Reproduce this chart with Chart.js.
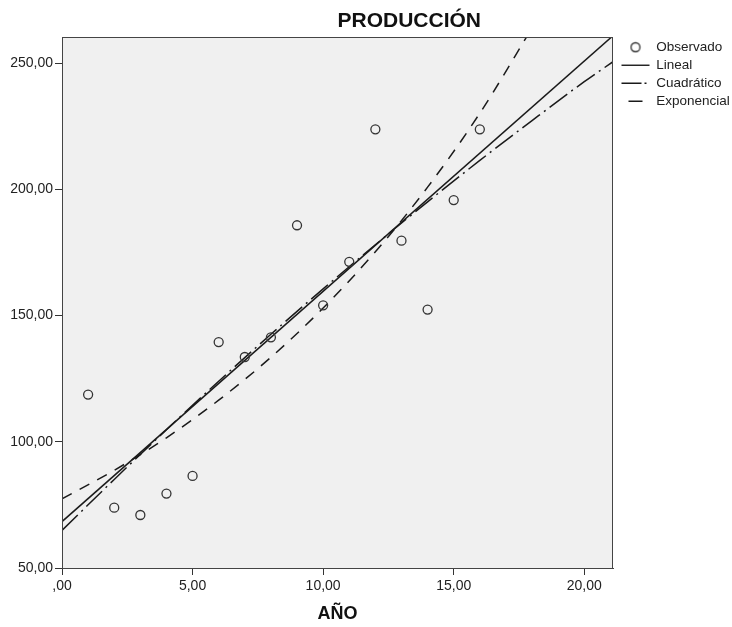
<!DOCTYPE html>
<html lang="es">
<head>
<meta charset="utf-8">
<title>PRODUCCIÓN</title>
<script src="https://cdn.jsdelivr.net/npm/chart.js@4.4.1/dist/chart.umd.min.js"></script>
<style>
  html, body { margin: 0; padding: 0; background: #fff; }
  #wrap { width: 732px; height: 627px; }
</style>
</head>
<body>
<div id="wrap"><canvas id="chart" width="732" height="627"></canvas></div>
<script>
// Observed values
const years = [1, 2, 3, 4, 5, 6, 7, 8, 9, 10, 11, 12, 13, 14, 15, 16];
const production = [118.7, 73.9, 71.0, 79.5, 86.5, 139.5, 133.6, 141.4, 185.8, 154.1, 171.3, 223.8, 179.7, 152.4, 195.8, 223.8];

// Fitted curves
const linealX = [0, 21.1];
const linealY = [68.4, 260.9];
const cuadX = [0, 2, 4, 6, 8, 10, 12, 14, 16, 18, 20, 21.1];
const cuadY = [64.9, 85.1, 104.8, 124.0, 142.6, 160.6, 178.1, 195.1, 211.5, 227.3, 242.7, 250.6];
const expoX = [0, 2, 4, 6, 8, 10, 12, 14, 16, 18];
const expoY = [77.4, 88.7, 101.6, 116.5, 133.5, 153.0, 175.3, 200.9, 230.2, 264.0];

// Axis ticks
const xTicks = [0, 5, 10, 15, 20];
const yTicks = [50, 100, 150, 200, 250];

const chartTitle = 'PRODUCCIÓN';
const xTitle = 'AÑO';

const ink = '#1a1a1a';
Chart.defaults.font.family = '"Liberation Sans", Arial, sans-serif';
Chart.defaults.color = '#222';

// SPSS style numbers: 5,00 and ,00
function fmt(v) {
  const s = Number(v).toFixed(2).replace('.', ',');
  return s.startsWith('0,') ? s.slice(1) : s;
}

function pairs(xs, ys) {
  return xs.map((x, i) => ({ x, y: ys[i] }));
}

// small open circle for the legend (pointStyleWidth would stretch a plain 'circle')
const legendCircle = document.createElement('canvas');
legendCircle.width = 12;
legendCircle.height = 12;
{
  const c = legendCircle.getContext('2d');
  c.strokeStyle = '#333';
  c.lineWidth = 1.3;
  c.beginPath();
  c.arc(6, 6, 4.5, 0, Math.PI * 2);
  c.stroke();
}

// grey plot background, frame, title and a small legend nudge
const plotFrame = {
  id: 'plotFrame',
  afterLayout(chart) {
    chart.legend.left += 4;
    chart.legend.top -= 1;
  },
  beforeDraw(chart) {
    const { ctx, chartArea: a } = chart;
    ctx.save();
    ctx.fillStyle = '#f0f0f0';
    ctx.fillRect(a.left, a.top, a.right - a.left, a.bottom - a.top);
    ctx.restore();
  },
  afterDraw(chart) {
    const { ctx, chartArea: a } = chart;
    ctx.save();
    ctx.strokeStyle = '#444';
    ctx.lineWidth = 1;
    ctx.strokeRect(a.left + 0.5, a.top + 0.5, a.right - a.left - 1, a.bottom - a.top);
    // title starts at the middle of the plot, like the original
    ctx.font = 'bold 21px "Liberation Sans", Arial, sans-serif';
    ctx.fillStyle = '#111';
    ctx.textAlign = 'left';
    ctx.textBaseline = 'alphabetic';
    ctx.fillText(chartTitle, (a.left + a.right) / 2, 27);
    ctx.restore();
  }
};

const ctx = document.getElementById('chart').getContext('2d');

new Chart(ctx, {
  type: 'scatter',
  data: {
    datasets: [
      {
        label: 'Observado',
        data: pairs(years, production),
        showLine: false,
        pointStyle: 'circle',
        pointRadius: 4.5,
        borderWidth: 1.3,
        borderColor: '#333',
        backgroundColor: 'rgba(0,0,0,0)',
        legendStyle: legendCircle
      },
      {
        label: 'Lineal',
        data: pairs(linealX, linealY),
        showLine: true,
        pointRadius: 0,
        borderWidth: 1.5,
        borderColor: ink,
        legendStyle: 'line',
        legendDash: []
      },
      {
        label: 'Cuadrático',
        data: pairs(cuadX, cuadY),
        showLine: true,
        pointRadius: 0,
        borderWidth: 1.5,
        borderColor: ink,
        borderDash: [22, 5, 2, 5],
        cubicInterpolationMode: 'monotone',
        legendStyle: 'line',
        legendDash: [20, 3, 2, 3]
      },
      {
        label: 'Exponencial',
        data: pairs(expoX, expoY),
        showLine: true,
        pointRadius: 0,
        borderWidth: 1.5,
        borderColor: ink,
        borderDash: [11, 9],
        cubicInterpolationMode: 'monotone',
        legendStyle: 'line',
        legendDash: [0, 7, 14, 7]
      }
    ]
  },
  options: {
    responsive: false,
    animation: false,
    events: [],
    devicePixelRatio: 1,
    layout: { padding: { top: 37, left: 0, right: 0, bottom: 0 } },
    plugins: {
      title: { display: false },
      tooltip: { enabled: false },
      legend: {
        position: 'right',
        align: 'start',
        maxWidth: 119,
        labels: {
          usePointStyle: true,
          pointStyleWidth: 28,
          boxHeight: 6.5,
          padding: 4.5,
          color: '#222',
          font: { size: 13.5 },
          generateLabels(chart) {
            const items = Chart.defaults.plugins.legend.labels.generateLabels(chart);
            items.forEach(it => {
              const ds = chart.data.datasets[it.datasetIndex];
              it.pointStyle = ds.legendStyle;
              it.lineDash = ds.legendDash || [];
              it.strokeStyle = ds.borderColor;
              it.fillStyle = 'rgba(0,0,0,0)';
              it.lineWidth = 1.4;
            });
            return items;
          }
        }
      }
    },
    scales: {
      x: {
        type: 'linear',
        min: 0,
        max: 21.1,
        afterBuildTicks: s => { s.ticks = xTicks.map(v => ({ value: v })); },
        afterFit: s => { s.height = 59; },
        ticks: { callback: fmt, font: { size: 14 }, color: '#222', padding: 3, maxRotation: 0, autoSkip: false },
        grid: { drawOnChartArea: false, tickLength: 7, color: '#333' },
        border: { color: '#444' },
        title: { display: true, text: xTitle, color: '#111', font: { size: 18, weight: 'bold' }, padding: { top: 4, bottom: 2 } }
      },
      y: {
        type: 'linear',
        min: 50,
        max: 260.4,
        afterBuildTicks: s => { s.ticks = yTicks.map(v => ({ value: v })); },
        afterFit: s => { s.width = 62; },
        ticks: { callback: fmt, font: { size: 14 }, color: '#222', padding: 2 },
        grid: { drawOnChartArea: false, tickLength: 7, color: '#333' },
        border: { color: '#444' }
      }
    }
  },
  plugins: [plotFrame]
});
</script>
</body>
</html>
